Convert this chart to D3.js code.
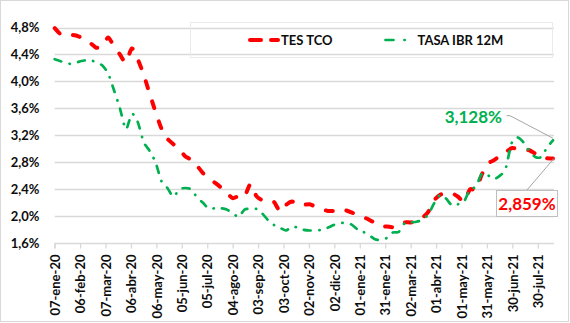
<!DOCTYPE html>
<html>
<head>
<meta charset="utf-8">
<script src="https://cdn.jsdelivr.net/npm/d3@7"></script>
<style>
  html, body { margin: 0; padding: 0; background: #fff; }
  svg { display: block; }
  text { font-family: Lato, "Open Sans", sans-serif; font-weight: bold; }
</style>
</head>
<body>
<svg id="chart" width="570" height="323"></svg>
<script>
// ---- data ----
const dates = [
  "2020-01-07","2020-01-14","2020-01-21","2020-01-28","2020-02-04","2020-02-11","2020-02-18","2020-02-25",
  "2020-03-03","2020-03-10","2020-03-17","2020-03-24","2020-03-31","2020-04-07","2020-04-14","2020-04-21",
  "2020-04-28","2020-05-05","2020-05-12","2020-05-19","2020-05-26","2020-06-02","2020-06-09","2020-06-16",
  "2020-06-23","2020-06-30","2020-07-07","2020-07-14","2020-07-21","2020-07-28","2020-08-04","2020-08-11",
  "2020-08-18","2020-08-25","2020-09-01","2020-09-08","2020-09-15","2020-09-22","2020-09-29","2020-10-06",
  "2020-10-13","2020-10-20","2020-10-27","2020-11-03","2020-11-10","2020-11-17","2020-11-24","2020-12-01",
  "2020-12-08","2020-12-15","2020-12-22","2020-12-29","2021-01-05","2021-01-12","2021-01-19","2021-01-26",
  "2021-02-02","2021-02-09","2021-02-16","2021-02-23","2021-03-02","2021-03-09","2021-03-16","2021-03-23",
  "2021-03-30","2021-04-06","2021-04-13","2021-04-20","2021-04-27","2021-05-04","2021-05-11","2021-05-18",
  "2021-05-25","2021-06-01","2021-06-08","2021-06-15","2021-06-22","2021-06-29","2021-07-06","2021-07-13",
  "2021-07-20","2021-07-27","2021-08-03","2021-08-10","2021-08-17"
];
const tesTco = [
  4.79,4.70,4.69,4.69,4.67,4.62,4.57,4.50,4.52,4.65,4.52,4.40,4.28,4.49,4.33,4.10,
  3.82,3.55,3.30,3.15,3.07,3.00,2.89,2.84,2.75,2.64,2.56,2.50,2.43,2.35,2.27,2.30,
  2.29,2.48,2.30,2.24,2.22,2.21,2.07,2.17,2.22,2.17,2.17,2.18,2.14,2.11,2.08,2.08,
  2.09,2.09,2.06,2.02,1.99,1.95,1.90,1.85,1.85,1.84,1.87,1.91,1.91,1.93,1.98,2.07,
  2.24,2.32,2.34,2.34,2.29,2.22,2.40,2.40,2.62,2.78,2.83,2.89,2.95,3.01,3.00,2.98,
  2.98,2.93,2.88,2.86,2.859
];
const ibr12m = [
  4.33,4.30,4.27,4.26,4.29,4.31,4.32,4.28,4.24,4.12,3.87,3.60,3.29,3.52,3.40,3.10,
  2.97,2.80,2.52,2.42,2.29,2.40,2.42,2.40,2.28,2.20,2.11,2.12,2.12,2.10,2.05,1.99,
  2.10,2.11,2.11,2.04,1.94,1.87,1.83,1.79,1.85,1.83,1.80,1.79,1.79,1.80,1.83,1.87,
  1.90,1.90,1.88,1.81,1.77,1.72,1.66,1.65,1.68,1.76,1.77,1.90,1.91,1.92,1.95,2.03,
  2.20,2.32,2.26,2.16,2.18,2.22,2.40,2.44,2.63,2.61,2.55,2.60,2.70,3.08,3.17,3.10,
  2.97,2.88,2.88,3.02,3.128
];
const seriesNames = ["TES TCO", "TASA IBR 12M"];
const yTicks = [1.6, 2.0, 2.4, 2.8, 3.2, 3.6, 4.0, 4.4, 4.8];
const yTickLabels = ["1,6%","2,0%","2,4%","2,8%","3,2%","3,6%","4,0%","4,4%","4,8%"];
const xTickLabels = ["07-ene-20","06-feb-20","07-mar-20","06-abr-20","06-may-20","05-jun-20","05-jul-20",
  "04-ago-20","03-sep-20","03-oct-20","02-nov-20","02-dic-20","01-ene-21","31-ene-21","02-mar-21",
  "01-abr-21","01-may-21","31-may-21","30-jun-21","30-jul-21"];
const lastLabels = ["2,859%", "3,128%"];

// ---- setup ----
const months = {ene:0,feb:1,mar:2,abr:3,may:4,jun:5,jul:6,ago:7,sep:8,oct:9,nov:10,dic:11};
const parseLabel = s => { const [d,m,y] = s.split("-"); return new Date(2000 + (+y), months[m], +d); };
const parseIso = d3.timeParse("%Y-%m-%d");
const dateVals = dates.map(parseIso);

const svg = d3.select("#chart");
const W = 570, H = 323;
const plot = {left: 54.7, right: 553, top: 27.5, bottom: 243.3};

svg.append("rect").attr("x",0.5).attr("y",0.5).attr("width",W-2).attr("height",H-2)
  .attr("fill","#fff").attr("stroke","#d9d9d9").attr("stroke-width",1);

const x = d3.scaleTime().domain([dateVals[0], dateVals[dateVals.length-1]]).range([plot.left, plot.right]);
const y = d3.scaleLinear().domain([1.6, 4.8]).range([plot.bottom, plot.top]);

// gridlines
svg.append("g").selectAll("line").data(yTicks.slice(1)).join("line")
  .attr("x1", plot.left).attr("x2", plot.right + 1)
  .attr("y1", d => Math.round(y(d)) + 0.5).attr("y2", d => Math.round(y(d)) + 0.5)
  .attr("stroke", "#d9d9d9").attr("stroke-width", 1.3);

// y labels
svg.append("g").selectAll("text").data(yTicks).join("text")
  .attr("x", 39.5).attr("y", d => y(d)).attr("dy", "0.36em")
  .attr("text-anchor", "end").attr("font-size", 13).attr("fill", "#0d0d0d")
  .text((d,i) => yTickLabels[i]);

// x axis
const xTickDates = xTickLabels.map(parseLabel);
const xAxis = d3.axisBottom(x).tickValues(xTickDates).tickSize(5).tickFormat((d,i) => xTickLabels[i]);
const gx = svg.append("g").attr("transform", `translate(0,${Math.round(plot.bottom)+0.5})`).call(xAxis);
gx.select(".domain").attr("stroke", "#d9d9d9").attr("stroke-width", 1.3)
  .attr("d", `M${plot.left},5V0H${plot.right + 1}`);
gx.selectAll(".tick line").attr("stroke", "#d9d9d9").attr("stroke-width", 1.3);
gx.selectAll(".tick text")
  .attr("font-family", "Lato, sans-serif").attr("font-weight", "bold")
  .attr("font-size", 13).attr("fill", "#0d0d0d")
  .attr("text-anchor", "end")
  .attr("transform", "translate(0,11) rotate(-90)")
  .attr("x", 0).attr("y", 0).attr("dy", "0.36em");

// lines
const line = d3.line().x((d,i) => x(dateVals[i])).y(d => y(d)).curve(d3.curveCardinal.tension(0.3));
svg.append("path").datum(tesTco).attr("d", line)
  .attr("fill", "none").attr("stroke", "#ff0000").attr("stroke-width", 4)
  .attr("stroke-linecap", "round").attr("stroke-dasharray", "7,14");
svg.append("path").datum(ibr12m).attr("d", line)
  .attr("fill", "none").attr("stroke", "#00b050").attr("stroke-width", 2.7)
  .attr("stroke-linecap", "round").attr("stroke-dasharray", "7,8.5,0.3,8.5");

// legend
const lg = svg.append("g");
lg.append("rect").attr("x", 190.5).attr("y", 22.5).attr("width", 362).attr("height", 35)
  .attr("fill", "none").attr("stroke", "#ebebeb").attr("stroke-width", 1);
lg.append("line").attr("x1", 250).attr("x2", 278).attr("y1", 40).attr("y2", 40)
  .attr("stroke", "#ff0000").attr("stroke-width", 4).attr("stroke-linecap", "round").attr("stroke-dasharray", "11,10");
lg.append("text").attr("x", 281).attr("y", 40).attr("dy", "0.36em").attr("font-size", 13).attr("fill", "#0d0d0d").text(seriesNames[0]);
lg.append("line").attr("x1", 385.5).attr("x2", 406).attr("y1", 40).attr("y2", 40)
  .attr("stroke", "#00b050").attr("stroke-width", 2.7).attr("stroke-linecap", "round").attr("stroke-dasharray", "8,11,0.3,20");
lg.append("text").attr("x", 417.5).attr("y", 40).attr("dy", "0.36em").attr("font-size", 13).attr("fill", "#0d0d0d").text(seriesNames[1]);

// annotations
const lastIdx = dates.length - 1;
const exR = x(dateVals[lastIdx]), eyR = y(tesTco[lastIdx]);
const exG = x(dateVals[lastIdx]), eyG = y(ibr12m[lastIdx]);
svg.append("path").attr("d", `M506.5,115.7H510L${exG},${eyG - 2}`)
  .attr("fill", "none").attr("stroke", "#a6a6a6").attr("stroke-width", 1);
svg.append("text").attr("x", 502).attr("y", 116.5).attr("dy", "0.36em").attr("text-anchor", "end")
  .attr("font-size", 17).attr("fill", "#00b050").text(lastLabels[1]);

svg.append("path").attr("d", `M527,190L${exR + 1},${eyR}`)
  .attr("fill", "none").attr("stroke", "#a6a6a6").attr("stroke-width", 1);
svg.append("rect").attr("x", 496.5).attr("y", 190.5).attr("width", 61).attr("height", 26)
  .attr("fill", "#fff").attr("stroke", "#bfbfbf").attr("stroke-width", 1);
svg.append("text").attr("x", 527).attr("y", 203.5).attr("dy", "0.36em").attr("text-anchor", "middle")
  .attr("font-size", 17).attr("fill", "#ff0000").text(lastLabels[0]);
</script>
</body>
</html>
